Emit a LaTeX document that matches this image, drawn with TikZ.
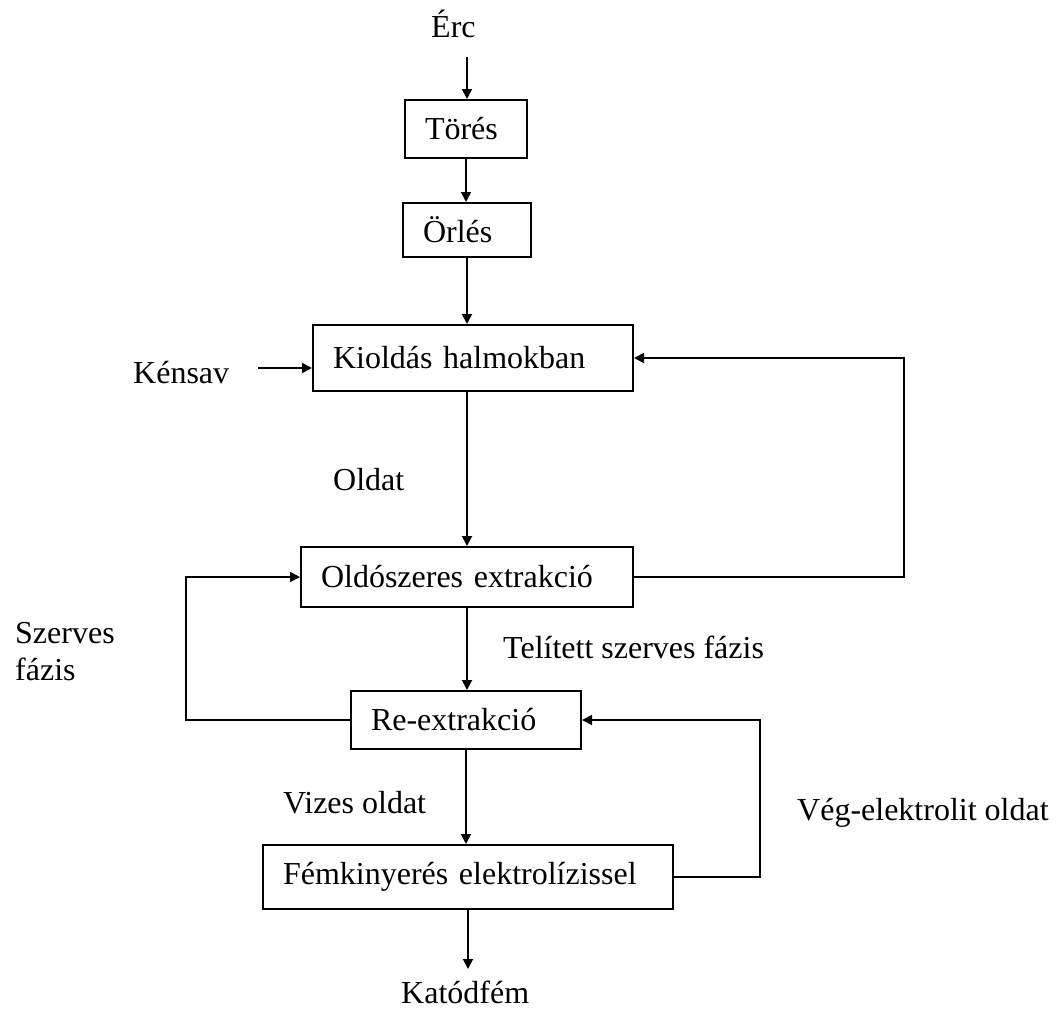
\documentclass[tikz,border=0pt]{standalone}
\usepackage{fontspec}
\setmainfont{Liberation Serif}
\usetikzlibrary{arrows.meta}
\begin{document}
\begin{tikzpicture}[x=1pt,y=-1pt,
  every node/.style={font=\fontsize{32}{38}\selectfont},
  stage/.style={draw, line width=2pt, align=left, inner xsep=20pt, inner ysep=0pt, anchor=center},
  flow/.style={line width=1.8pt, -{Triangle[length=10pt,width=10pt]}},
  tag/.style={inner sep=0pt, anchor=base west}]
\useasboundingbox (0,0) rectangle (1063,1012);

% process stages
\node[stage, text width=82pt,  minimum height=58pt] (tores) at (466,129) {Törés};
\node[stage, text width=88pt,  minimum height=54pt] (orles) at (467,230) {Örlés};
\node[stage, text width=280pt, minimum height=66pt] (kiold) at (473,358) {Kioldás halmokban};
\node[stage, text width=292pt, minimum height=60pt] (oldsz) at (467,577) {Oldószeres extrakció};
\node[stage, text width=190pt, minimum height=58pt] (reext) at (466,720) {Re-extrakció};
\node[stage, text width=370pt, minimum height=64pt] (femk)  at (468,877) {Fémkinyerés elektrolízissel};

% stream labels
\node[tag] (erc)      at (431,37)   {Érc};
\node[tag] (kensav)   at (133,383)  {Kénsav};
\node[tag] (oldat)    at (333,490)  {Oldat};
\node[tag] (telitett) at (503,658)  {Telített szerves fázis};
\node[tag] (szerves)  at (15,643)   {Szerves};
\node[tag] (fazis)    at (15,680)   {fázis};
\node[tag] (vizes)    at (283,813)  {Vizes oldat};
\node[tag] (veg)      at (797,820)  {Vég-elektrolit oldat};
\node[tag] (katod)    at (401,1003) {Katódfém};

% free ends of the feed arrows
\coordinate (ercout) at (467,57);
\coordinate (kin) at (258,368);

% main line
\draw[flow] (ercout) -- (ercout |- tores.north);
\draw[flow] (tores.south) -- (tores.south |- orles.north);
\draw[flow] (orles.south) -- (orles.south |- kiold.north);
\draw[flow] (oldsz.north |- kiold.south) -- (oldsz.north);
\draw[flow] (oldsz.south) -- (oldsz.south |- reext.north);
\draw[flow] (reext.south) -- (reext.south |- femk.north);
\draw[flow] (femk.south) -- ++(0,59);

% acid feed
\draw[flow] (kin) -- (kin -| kiold.west);

% recycle loops
\draw[flow] (oldsz.east) -- ++(270,0) |- (kiold.east);
\draw[flow] (reext.west) -- ++(-164,0) |- (oldsz.west);
\draw[flow] (femk.east) -- ++(86,0) |- (reext.east);
\end{tikzpicture}
\end{document}
